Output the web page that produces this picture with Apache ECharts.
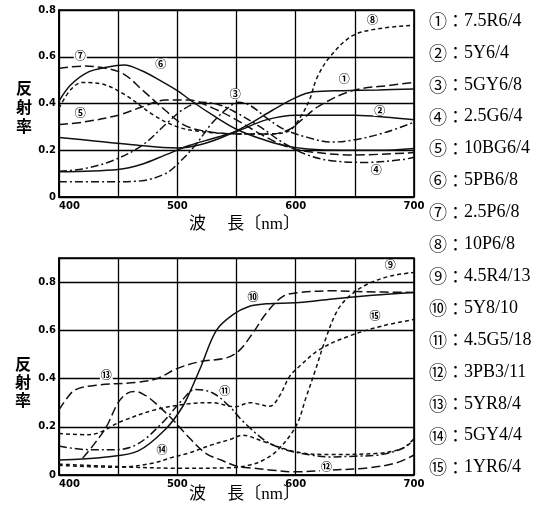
<!DOCTYPE html>
<html>
<head>
<meta charset="utf-8">
<script src="https://cdn.jsdelivr.net/npm/echarts@6/dist/echarts.min.js"></script>
<style>
  html, body { margin: 0; padding: 0; background: #fff; }
  #chart { width: 557px; height: 514px; }
</style>
</head>
<body>
<div id="chart"></div>
<script>
// reflectance curves, [wavelength nm, reflectance]
const c1 = [[400,0.255],[430,0.24],[460,0.225],[500,0.21],[520,0.225],[540,0.26],[560,0.31],[580,0.37],[600,0.425],[615,0.45],[640,0.455],[670,0.458],[700,0.462]];
const c2 = [[400,0.108],[450,0.118],[470,0.14],[490,0.18],[510,0.22],[530,0.25],[550,0.28],[575,0.33],[600,0.35],[650,0.35],[680,0.34],[700,0.33]];
const c3 = [[400,0.065],[440,0.065],[470,0.07],[490,0.1],[500,0.14],[515,0.22],[530,0.32],[545,0.39],[552,0.405],[562,0.39],[575,0.34],[590,0.29],[610,0.255],[630,0.235],[650,0.245],[675,0.275],[700,0.32]];
const c4 = [[400,0.11],[420,0.12],[445,0.155],[470,0.22],[490,0.31],[505,0.375],[520,0.405],[535,0.395],[550,0.36],[570,0.3],[590,0.23],[610,0.18],[630,0.155],[660,0.148],[690,0.16],[700,0.17]];
const c5 = [[400,0.31],[420,0.32],[450,0.35],[470,0.385],[490,0.415],[510,0.415],[530,0.38],[550,0.33],[570,0.27],[590,0.22],[610,0.195],[650,0.18],[700,0.19]];
const c6 = [[400,0.41],[410,0.48],[425,0.535],[440,0.555],[455,0.565],[470,0.54],[485,0.5],[500,0.455],[515,0.4],[530,0.35],[550,0.29],[570,0.25],[590,0.22],[610,0.205],[640,0.2],[670,0.2],[700,0.208]];
const c7 = [[400,0.55],[420,0.56],[440,0.55],[455,0.525],[470,0.46],[490,0.37],[505,0.31],[520,0.285],[550,0.27],[580,0.27],[595,0.29],[605,0.33],[620,0.39],[648,0.455],[680,0.478],[700,0.49]];
const c8 = [[400,0.38],[410,0.46],[420,0.49],[435,0.485],[455,0.44],[480,0.35],[500,0.3],[520,0.28],[550,0.27],[580,0.27],[595,0.285],[605,0.35],[612,0.42],[618,0.51],[629,0.6],[648,0.69],[670,0.72],[700,0.735]];

const c9 = [[400,0.045],[450,0.035],[500,0.028],[545,0.03],[560,0.04],[572,0.06],[584,0.1],[600,0.2],[609,0.325],[617,0.44],[625,0.56],[635,0.68],[645,0.74],[660,0.79],[680,0.825],[700,0.84]];
const c10 = [[400,0.062],[440,0.075],[467,0.1],[490,0.19],[504,0.28],[513,0.37],[520,0.45],[533,0.6],[547,0.665],[561,0.7],[575,0.71],[603,0.715],[631,0.73],[665,0.745],[700,0.757]];
const c11 = [[400,0.12],[425,0.105],[448,0.105],[467,0.13],[487,0.215],[504,0.31],[515,0.355],[530,0.34],[545,0.28],[555,0.225],[575,0.14],[592,0.104],[610,0.085],[628,0.075],[650,0.078],[670,0.083],[690,0.11],[700,0.15]];
const c12 = [[420,0.07],[430,0.13],[440,0.2],[450,0.3],[458,0.34],[465,0.346],[473,0.33],[481,0.3],[496,0.23],[509,0.16],[524,0.09],[538,0.06],[551,0.035],[561,0.03],[580,0.02],[600,0.013],[628,0.02],[662,0.03],[685,0.05],[700,0.083]];
const c13 = [[400,0.27],[407,0.32],[414,0.354],[431,0.372],[467,0.385],[483,0.4],[499,0.44],[519,0.47],[541,0.485],[552,0.515],[564,0.59],[575,0.67],[589,0.74],[603,0.757],[631,0.764],[660,0.76],[700,0.757]];
const c14 = [[400,0.04],[450,0.032],[480,0.05],[495,0.072],[509,0.09],[529,0.125],[545,0.148],[555,0.165],[572,0.14],[600,0.096],[628,0.085],[670,0.09],[690,0.11],[700,0.145]];
const c15 = [[400,0.172],[425,0.167],[454,0.225],[481,0.27],[509,0.295],[529,0.3],[549,0.283],[561,0.3],[578,0.285],[586,0.325],[595,0.41],[603,0.45],[620,0.52],[645,0.576],[673,0.618],[700,0.645]];

const curves = [c1, c2, c3, c4, c5, c6, c7, c8, c9, c10, c11, c12, c13, c14, c15];
const marks = ['①','②','③','④','⑤','⑥','⑦','⑧','⑨','⑩','⑪','⑫','⑬','⑭','⑮'];
const munsell = ['7.5R6/4','5Y6/4','5GY6/8','2.5G6/4','10BG6/4','5PB6/8','2.5P6/8','10P6/8',
  '4.5R4/13','5Y8/10','4.5G5/18','3PB3/11','5YR8/4','5GY4/4','1YR6/4'];
// where each curve number is written on the plot
const labelAt = [[641,0.505],[671,0.37],[549,0.44],[668,0.115],[418,0.36],[486,0.57],[418,0.604],[665,0.76],
  [680,0.87],[564,0.74],[540,0.35],[626,0.035],[440,0.417],[487,0.104],[667,0.66]];

const xTicks = [400, 500, 600, 700];

const SOLID = 'solid', LONG = [9, 4], SHORT = [4, 3], DASHDOT = [8, 3, 2, 3];
const dashes = [SOLID, SOLID, DASHDOT, DASHDOT, LONG, SOLID, LONG, SHORT,
  SHORT, SOLID, DASHDOT, LONG, LONG, SHORT, SHORT];

const chart = echarts.init(document.getElementById('chart'), null, {renderer: 'canvas'});

const axisFont = {fontFamily: 'DejaVu Sans', fontWeight: 'bold', fontSize: 10, color: '#000'};

const makeX = (gridIndex) => ({
  type: 'value', gridIndex, min: 400, max: 700, interval: 50,
  axisLine: {show: true, lineStyle: {color: '#000', width: 1.6}},
  axisTick: {show: false},
  splitLine: {show: true, lineStyle: {color: '#000', width: 1.3}},
  axisLabel: Object.assign({
    margin: 4, alignMinLabel: 'left',
    formatter: v => xTicks.includes(v) ? String(v) : ''
  }, axisFont)
});

const makeY = (gridIndex, max) => ({
  type: 'value', gridIndex, min: 0, max, interval: 0.2,
  axisLine: {show: true, lineStyle: {color: '#000', width: 1.6}},
  axisTick: {show: false},
  splitLine: {show: true, lineStyle: {color: '#000', width: 1.3}},
  axisLabel: Object.assign({margin: 3, showMaxLabel: max === 0.8,
    formatter: v => v === 0 ? '0' : v.toFixed(1)}, axisFont)
});

const series = curves.map((data, i) => ({
  type: 'line',
  name: marks[i],
  xAxisIndex: i < 8 ? 0 : 1,
  yAxisIndex: i < 8 ? 0 : 1,
  data,
  smooth: 0.35,
  symbol: 'none',
  lineStyle: {color: '#111', width: 1.5, type: dashes[i]},
  markPoint: {
    symbol: 'circle', symbolSize: 1,
    itemStyle: {color: 'transparent'},
    label: {
      show: true, position: 'inside', formatter: marks[i],
      fontFamily: 'Noto Sans CJK JP', fontWeight: 'bold', fontSize: 11, color: '#000',
      backgroundColor: '#fff', padding: [0, 1]
    },
    data: [{coord: labelAt[i]}]
  }
}));

const legendTexts = munsell.map((name, i) => ({
  type: 'text', left: 429, top: 22 + i * 31.9 - 10,
  style: {
    text: `{n|${marks[i]}}{s|：}{t|${name}}`,
    rich: {
      n: {fontFamily: 'Noto Sans CJK JP', fontSize: 18, lineHeight: 20, fill: '#000'},
      s: {fontFamily: 'Noto Sans CJK JP', fontSize: 17, lineHeight: 20, fill: '#000'},
      t: {fontFamily: 'Liberation Serif', fontSize: 18, lineHeight: 20, fill: '#000'}
    }
  }
}));

const axisTitles = [
  {type: 'text', left: 16, top: 78, style: {text: '反\n射\n率', font: 'bold 16px "Noto Sans CJK JP"', lineHeight: 19, fill: '#000'}},
  {type: 'text', left: 15, top: 355, style: {text: '反\n射\n率', font: 'bold 16px "Noto Sans CJK JP"', lineHeight: 18, fill: '#000'}},
  {type: 'text', left: 189, top: 216, style: {text: '波　 長〔nm〕', font: '17px "Liberation Serif", "Noto Sans CJK JP"', fill: '#000'}},
  {type: 'text', left: 189, top: 486, style: {text: '波　 長〔nm〕', font: '17px "Liberation Serif", "Noto Sans CJK JP"', fill: '#000'}}
];

chart.setOption({
  animation: false,
  backgroundColor: '#fff',
  grid: [
    {left: 59, top: 10, width: 355, height: 187, show: true, borderColor: '#000', borderWidth: 1.6},
    {left: 59, top: 258, width: 355, height: 217, show: true, borderColor: '#000', borderWidth: 1.6}
  ],
  xAxis: [makeX(0), makeX(1)],
  yAxis: [makeY(0, 0.8), makeY(1, 0.9)],
  series,
  graphic: legendTexts.concat(axisTitles)
});
</script>
</body>
</html>
